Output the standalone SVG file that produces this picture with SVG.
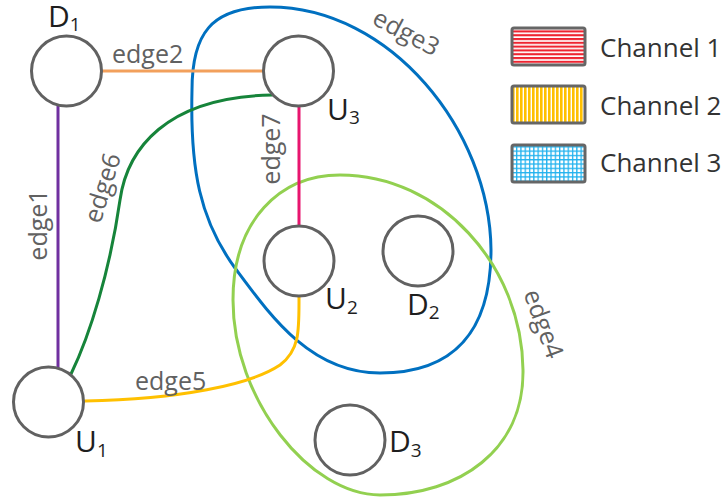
<svg xmlns="http://www.w3.org/2000/svg" width="726" height="504" viewBox="0 0 726 504">
<defs>
<style>
.node{fill:#fff;stroke:#616161;stroke-width:3}
.edge{fill:none;stroke-width:3;stroke-linecap:round}
.el{font-family:"Open Sans","Noto Sans",sans-serif;font-size:25px;fill:#616161}
.nl{font-family:"Open Sans","Noto Sans",sans-serif;font-size:30px;fill:#1e1e1e}
.sub{font-size:19px}
.lg{font-family:"Open Sans","Noto Sans",sans-serif;font-size:26px;fill:#333}
.box{stroke:#666;stroke-width:3}
</style>
<pattern id="p1" patternUnits="userSpaceOnUse" width="6" height="3.8">
<rect width="6" height="3.8" fill="#fff"/><rect width="6" height="2.1" fill="#EE2430"/>
</pattern>
<pattern id="p2" patternUnits="userSpaceOnUse" width="4" height="6">
<rect width="4" height="6" fill="#fff"/><rect width="2.6" height="6" fill="#FFC000"/>
</pattern>
<pattern id="p3" patternUnits="userSpaceOnUse" width="4.3" height="4.3">
<rect width="4.3" height="4.3" fill="#fff"/><rect width="1.3" height="4.3" fill="#22B2EE"/><rect width="4.3" height="1.3" fill="#22B2EE"/>
</pattern>
</defs>
<rect width="726" height="504" fill="#fff"/>

<g id="connectors">
<path id="edge3" class="edge" stroke="#0070C0" stroke-width="3.5" d="M270,7 C210,7 192,35 192,90 C190,170 200,220 235,268 C270,315 310,373 380,373 C455,373 491,330 491,250 C490,130 390,7 270,7 Z"/>
<path id="edge4" class="edge" stroke="#92D050" d="M340,175 C440,175 522,265 523,370 C524,450 460,495 380,495 C310,495 233,400 233,300 C233,220 280,175 340,175 Z"/>
<line id="edge1" class="edge" stroke="#7030A0" x1="58" y1="106" x2="58" y2="368"/>
<line id="edge2" class="edge" stroke="#F2A05C" x1="102" y1="71" x2="263" y2="71"/>
<path id="edge6" class="edge" stroke="#16843A" d="M71,374 C90,335 110,270 120,200 C127,150 165,97 272,95"/>
<line id="edge7" class="edge" stroke="#E8156E" x1="299" y1="107" x2="299" y2="225"/>
<path id="edge5" class="edge" stroke="#FFC000" d="M85,401 C180,399 250,385 280,365 C300,350 299,330 299,297"/>
<text class="el" x="112" y="63">edge2</text>
<text class="el" x="135" y="390">edge5</text>
<text class="el" text-anchor="middle" transform="translate(39,225) rotate(-90)" y="8">edge1</text>
<text class="el" text-anchor="middle" transform="translate(103,188) rotate(-73)" y="8">edge6</text>
<text class="el" text-anchor="middle" transform="translate(272,149) rotate(-90)" y="8">edge7</text>
<text class="el" text-anchor="middle" transform="translate(406,33) rotate(28)" y="8">edge3</text>
<text class="el" text-anchor="middle" transform="translate(543,324) rotate(70)" y="8">edge4</text>
</g>

<g id="D1"><circle class="node" cx="66.5" cy="71" r="35"/><text class="nl" x="48" y="27">D<tspan class="sub" dy="4">1</tspan></text></g>
<g id="U3"><circle class="node" cx="298.5" cy="71" r="35"/><text class="nl" x="327" y="120">U<tspan class="sub" dy="4">3</tspan></text></g>
<g id="U2"><circle class="node" cx="299" cy="261" r="35"/><text class="nl" x="325" y="309">U<tspan class="sub" dy="5">2</tspan></text></g>
<g id="D2"><circle class="node" cx="418" cy="251" r="35"/><text class="nl" x="407" y="315">D<tspan class="sub" dy="4">2</tspan></text></g>
<g id="D3"><circle class="node" cx="350" cy="440" r="35"/><text class="nl" x="389" y="452">D<tspan class="sub" dy="5">3</tspan></text></g>
<g id="U1"><circle class="node" cx="48.5" cy="402" r="35"/><text class="nl" x="75" y="452">U<tspan class="sub" dy="5">1</tspan></text></g>

<g id="legend">
<rect class="box" x="512" y="28" width="73" height="37" rx="2" fill="url(#p1)"/>
<text class="lg" x="600" y="57">Channel 1</text>
<rect class="box" x="512" y="86" width="73" height="37" rx="2" fill="url(#p2)"/>
<text class="lg" x="600" y="115">Channel 2</text>
<rect class="box" x="512" y="145" width="73" height="37" rx="2" fill="url(#p3)"/>
<text class="lg" x="600" y="172">Channel 3</text>
</g>
</svg>
